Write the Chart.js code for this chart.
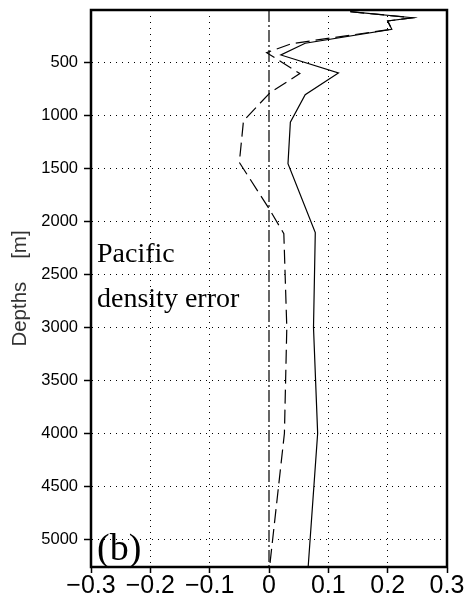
<!DOCTYPE html>
<html>
<head>
<meta charset="utf-8">
<script src="https://cdn.jsdelivr.net/npm/chart.js@4.4.1/dist/chart.umd.min.js"></script>
<style>
  html, body { margin: 0; padding: 0; background: #fff; }
  #wrap { width: 465px; height: 603px; }
</style>
</head>
<body>
<div id="wrap"><canvas id="chart"></canvas></div>
<script>
// depth levels (m) and error values
const solidDepths = [16, 73, 104, 182, 314, 425, 595, 800, 1060, 1453, 2104, 3000, 4000, 5264];
const solidValues = [0.137, 0.242, 0.200, 0.207, 0.061, 0.020, 0.117, 0.061, 0.036, 0.032, 0.078, 0.075, 0.082, 0.066];

const dashDepths = [16, 73, 104, 182, 318, 403, 601, 780, 1047, 1440, 1877, 2113, 3000, 4000, 5264];
const dashValues = [0.137, 0.242, 0.200, 0.207, 0.038, -0.004, 0.052, 0.002, -0.043, -0.050, 0.000, 0.025, 0.030, 0.026, 0.001];

const zeroDepths = [0, 5264];
const zeroValues = [0, 0];

const yTicks = [500, 1000, 1500, 2000, 2500, 3000, 3500, 4000, 4500, 5000];
const xTicks = [-0.3, -0.2, -0.1, 0, 0.1, 0.2, 0.3];

function toPoints(depths, values) {
    return depths.map((d, i) => ({ x: values[i], y: d }));
}

// frame + text labels
const framePlugin = {
    id: 'frame',
    afterDraw(chart) {
        const { ctx, chartArea: a } = chart;
        ctx.save();
        ctx.strokeStyle = '#000';
        ctx.lineWidth = 2.5;
        ctx.strokeRect(a.left, a.top, a.right - a.left, a.bottom - a.top);

        ctx.fillStyle = '#000';
        ctx.textAlign = 'left';
        ctx.textBaseline = 'alphabetic';
        ctx.font = '28px "Liberation Serif", "Times New Roman", serif';
        ctx.fillText('Pacific', a.left + 6, 262);
        ctx.fillText('density error', a.left + 6, 307);
        ctx.font = '38px "Liberation Serif", "Times New Roman", serif';
        ctx.fillText('(b)', a.left + 6, 560);
        ctx.restore();
    }
};

const ctx = document.getElementById('chart').getContext('2d');
new Chart(ctx, {
    type: 'scatter',
    data: {
        datasets: [
            {
                label: 'zero',
                data: toPoints(zeroDepths, zeroValues),
                showLine: true,
                borderColor: '#000',
                borderWidth: 1.2,
                borderDash: [12, 3, 2, 3],
                pointRadius: 0
            },
            {
                label: 'dashed',
                data: toPoints(dashDepths, dashValues),
                showLine: true,
                borderColor: '#000',
                borderWidth: 1.2,
                borderDash: [14, 6],
                pointRadius: 0
            },
            {
                label: 'solid',
                data: toPoints(solidDepths, solidValues),
                showLine: true,
                borderColor: '#000',
                borderWidth: 1.2,
                pointRadius: 0
            }
        ]
    },
    options: {
        responsive: true,
        maintainAspectRatio: false,
        animation: false,
        layout: { padding: { top: 10, right: 18, left: 0, bottom: 0 } },
        plugins: {
            legend: { display: false },
            tooltip: { enabled: false }
        },
        scales: {
            x: {
                type: 'linear',
                min: -0.3,
                max: 0.3,
                afterBuildTicks: scale => { scale.ticks = xTicks.map(v => ({ value: v })); },
                afterFit: scale => {
                    scale.height = 36;
                    scale.paddingRight = 0;
                },
                ticks: {
                    color: '#000',
                    padding: -2,
                    maxRotation: 0,
                    autoSkip: false,
                    font: { family: '"Liberation Sans", Arial, sans-serif', size: 25 },
                    callback: v => v === 0 ? '0' : (v < 0 ? '\u2212' + Math.abs(v).toFixed(1) : v.toFixed(1))
                },
                grid: {
                    color: c => (c.tick && c.tick.value === 0) ? 'rgba(0,0,0,0)' : '#000',
                    lineWidth: 1,
                    tickLength: 6,
                    tickColor: '#000',
                    tickBorderDash: [],
                    tickWidth: 1.5
                },
                border: { display: true, color: '#000', width: 2, dash: [1, 5] }
            },
            y: {
                type: 'linear',
                reverse: true,
                min: 0,
                max: 5264,
                afterBuildTicks: scale => { scale.ticks = yTicks.map(v => ({ value: v })); },
                afterFit: scale => {
                    scale.width = 91;
                    scale.paddingTop = 0;
                    scale.paddingBottom = 0;
                },
                ticks: {
                    color: '#000',
                    padding: 6,
                    font: { family: '"Liberation Sans", Arial, sans-serif', size: 16.5 },
                    callback: v => String(v)
                },
                title: {
                    display: true,
                    text: 'Depths    [m]',
                    color: '#333',
                    padding: { top: 8, bottom: 2 },
                    font: { family: '"Liberation Sans", Arial, sans-serif', size: 20.5 }
                },
                grid: {
                    color: '#000',
                    lineWidth: 1,
                    tickLength: 7,
                    tickColor: '#000',
                    tickBorderDash: [],
                    tickWidth: 1.5
                },
                border: { display: true, color: '#000', width: 2, dash: [1, 5] }
            }
        }
    },
    plugins: [framePlugin]
});
</script>
</body>
</html>
